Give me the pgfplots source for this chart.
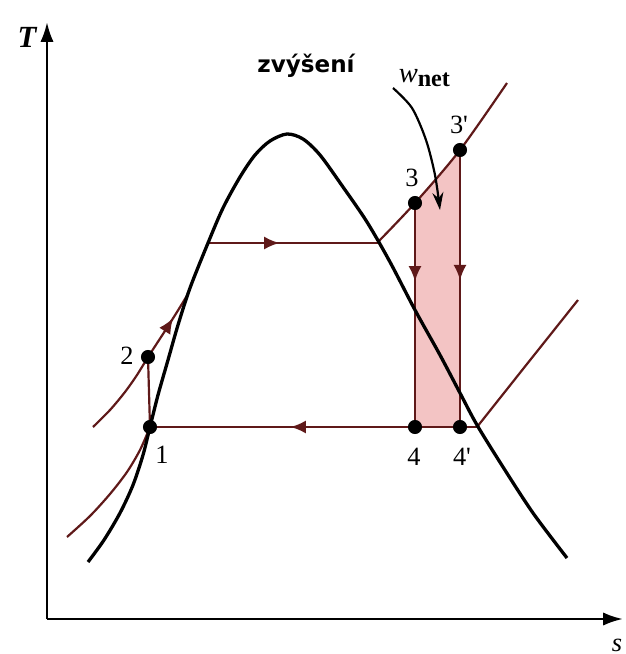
\documentclass[border=0pt]{standalone}
\usepackage{pgfplots}
\pgfplotsset{compat=1.18}
\usepackage{fontspec}
\setmainfont{Liberation Serif}
\newfontfamily\dvs{DejaVu Sans}
\usetikzlibrary{arrows.meta,decorations.markings}
\definecolor{lred}{RGB}{95,25,25}
\definecolor{pinkfill}{RGB}{243,196,196}
\tikzset{midarrow/.style={postaction={decorate},decoration={markings,mark=at position #1 with {\arrow{Latex[length=7pt,width=6pt]}}}}}
\begin{document}
\begin{tikzpicture}
\begin{axis}[
  scale only axis, width=10cm, height=10.464cm,
  xmin=0, xmax=625, ymin=0, ymax=654, y dir=reverse,
  hide axis, clip=false,
]
\addplot[draw=none] coordinates {(0,0)(625,654)};
% work area
\addplot[fill=pinkfill, draw=none] coordinates {(415,427)(415,203)(460,150)(460,427)(415,427)};
% axes
\addplot[line width=1.2pt, -{Latex[length=9pt,width=6pt]}] coordinates {(47,619)(47,22)};
\addplot[line width=1.2pt, -{Latex[length=9pt,width=6pt]}] coordinates {(47,619)(623,619)};
% low pressure line
\addplot[lred, line width=1pt, smooth] coordinates {(67,537)(90,516)(110,494)(127,472)(140,450)(150,427)};
\addplot[lred, line width=1pt, midarrow=0.57] coordinates {(477,427)(150,427)};
\addplot[lred, line width=1pt] coordinates {(477,427)(527,364)(578,300)};
% high pressure line
\addplot[lred, line width=1pt, smooth] coordinates {(93,427)(110,410)(125,392)(137,375)(148,357)};
\addplot[lred, line width=1pt, smooth, midarrow=0.62] coordinates {(148,357)(163,334)(177,312)(188,294)};
\addplot[lred, line width=1pt, midarrow=0.42] coordinates {(208,243)(378,243)};
\addplot[lred, line width=1pt, smooth] coordinates {(378,242)(415,203)(460,150)(507,83)};
% pump 1-2
\addplot[lred, line width=1pt] coordinates {(150,427)(148,357)};
% turbine expansions
\addplot[lred, line width=1pt, midarrow=0.35] coordinates {(415,203)(415,427)};
\addplot[lred, line width=1pt, midarrow=0.47] coordinates {(460,150)(460,427)};
% saturation dome
\addplot[black, line width=1.5pt, smooth] coordinates {
(88,562)(104,540)(120,513)(133,485)(143,455)(150,427)(158,395)(168,360)(178,325)(190,288)(208,243)(223,208)(240,177)(255,155)(270,141)(287,134)(303,139)(320,155)(343,187)(367,222)(390,262)(415,310)(440,355)(460,393)(477,425)(503,467)(533,513)(567,558)};
% state points
\addplot[only marks, mark=*, mark size=3pt, black] coordinates {(150,427)(148,357)(415,203)(460,150)(415,427)(460,427)};
% net work arrow
\addplot[black, line width=1pt, smooth, -{Stealth[length=8pt,width=5pt]}] coordinates {(393,88)(412,108)(426,140)(435,175)(440,210)};
% labels
\node[font=\fontsize{12}{12}\selectfont] at (axis cs:162,455) {1};
\node[font=\fontsize{12}{12}\selectfont] at (axis cs:127,356) {2};
\node[font=\fontsize{12}{12}\selectfont] at (axis cs:412,178) {3};
\node[font=\fontsize{12}{12}\selectfont] at (axis cs:459,125) {3\textquotesingle};
\node[font=\fontsize{12}{12}\selectfont] at (axis cs:414,457) {4};
\node[font=\fontsize{12}{12}\selectfont] at (axis cs:462,457) {4\textquotesingle};
\node[font=\fontsize{14}{14}\selectfont\bfseries\itshape] at (axis cs:27,37) {T};
\node[font=\fontsize{12}{12}\selectfont\itshape, anchor=south, inner sep=0pt] at (axis cs:617,652) {s};
\node[font=\dvs\bfseries\fontsize{10.5}{10.5}\selectfont] at (axis cs:306,66) {zvýšení};
\node[font=\fontsize{13}{13}\selectfont, anchor=base west] at (axis cs:391,82) {\textit{w}\textsubscript{\textbf{\fontsize{11}{11}\selectfont net}}};
\end{axis}
\pgfresetboundingbox
\path[use as bounding box] (current axis.south west) rectangle (current axis.north east);
\end{tikzpicture}
\end{document}
